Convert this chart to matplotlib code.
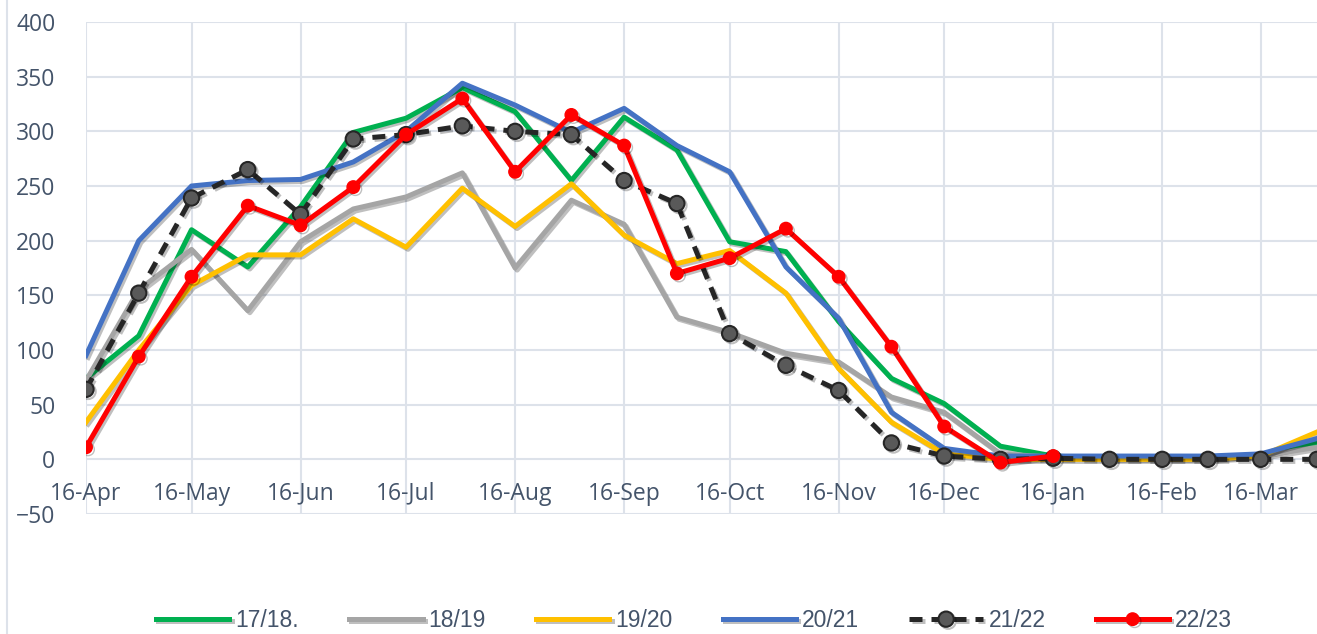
import matplotlib
matplotlib.use("Agg")
import matplotlib.pyplot as plt
import matplotlib.dates as mdates
import matplotlib.patheffects as pe
from matplotlib.lines import Line2D
from matplotlib import font_manager
import pandas as pd

# semi-monthly observation dates (season Apr -> Apr)
dates = pd.to_datetime([
    "2022-04-16", "2022-05-01", "2022-05-16", "2022-06-01", "2022-06-16", "2022-07-01",
    "2022-07-16", "2022-08-01", "2022-08-16", "2022-09-01", "2022-09-16", "2022-10-01",
    "2022-10-16", "2022-11-01", "2022-11-16", "2022-12-01", "2022-12-16", "2023-01-01",
    "2023-01-16", "2023-02-01", "2023-02-16", "2023-03-01", "2023-03-16", "2023-04-01",
])

s1718 = [74, 113, 210, 176, 231, 299, 312, 340, 318, 255, 313, 283,
         199, 190, 126, 74, 51, 12, 3, 1, 1, 1, 4, 15]
s1819 = [72, 155, 192, 136, 199, 229, 240, 262, 175, 237, 215, 130,
         116, 97, 89, 57, 43, 5, 2, 2, 2, 2, 3, 11]
s1920 = [34, 100, 159, 187, 187, 220, 194, 248, 213, 252, 205, 179,
         191, 152, 83, 34, 5, 0, 0, 0, 0, 0, 3, 25]
s2021 = [95, 200, 250, 255, 256, 272, 300, 344, 324, 299, 321, 287,
         263, 176, 129, 43, 10, 3, 3, 3, 3, 3, 5, 19]
s2122 = [64, 152, 239, 265, 224, 293, 297, 305, 300, 297, 255, 234,
         115, 86, 63, 15, 3, 0, 1, 0, 0, 0, 0, 0]
s2223 = [11, 94, 167, 232, 214, 249, 297, 330, 263, 315, 287, 170,
         184, 211, 167, 103, 30, -3, 3]

labels = ["17/18.", "18/19", "19/20", "20/21", "21/22", "22/23"]
text_col = "#44546A"
grid_col = "#DDE2EA"

names = {f.name for f in font_manager.fontManager.ttflist}
tick_font = "Open Sans" if "Open Sans" in names else "DejaVu Sans"
legend_font = "Liberation Sans Narrow" if "Liberation Sans Narrow" in names else "Liberation Sans"

fig = plt.figure(figsize=(13.17, 6.34), dpi=100)
ax = fig.add_axes([86 / 1317, 1 - 514 / 634, 1 - 86 / 1317, (514 - 22) / 634])

shadow = [pe.SimpleLineShadow(offset=(1.5, -1.5), alpha=0.25), pe.Normal()]

ax.plot(dates, s1718, color="#00B050", lw=3.6, label=labels[0], path_effects=shadow)
ax.plot(dates, s1819, color="#A5A5A5", lw=3.6, label=labels[1], path_effects=shadow)
ax.plot(dates, s1920, color="#FFC000", lw=3.6, label=labels[2], path_effects=shadow)
ax.plot(dates, s2021, color="#4472C4", lw=3.6, label=labels[3], path_effects=shadow)
ax.plot(dates, s2122, color="#262626", lw=3.6, ls=(0, (2.6, 1.8)), marker="o",
        markersize=11, markerfacecolor="#595959", markeredgecolor="#262626",
        markeredgewidth=1.5, label=labels[4], path_effects=shadow)
ax.plot(dates[:len(s2223)], s2223, color="#FF0000", lw=3.6, marker="o",
        markersize=9, markerfacecolor="#FF0000", markeredgecolor="#FF0000",
        label=labels[5], path_effects=shadow)

ax.set_ylim(-50, 400)
ax.set_yticks(range(-50, 401, 50))
ax.set_xlim(dates[0], dates[-1])
ax.xaxis.set_major_locator(mdates.MonthLocator(bymonthday=16))
ax.xaxis.set_major_formatter(mdates.DateFormatter("%d-%b"))

ax.grid(True, color=grid_col, lw=1.5)
ax.set_axisbelow(True)
for side in ["top", "right", "left"]:
    ax.spines[side].set_visible(False)
ax.spines["bottom"].set_position(("data", 0))
ax.spines["bottom"].set_visible(False)
ax.tick_params(axis="x", length=0, pad=16, labelsize=16.5, labelcolor=text_col)
ax.tick_params(axis="y", length=0, pad=22, labelsize=16.5, labelcolor=text_col)
for lab in ax.get_xticklabels() + ax.get_yticklabels():
    lab.set_fontfamily(tick_font)

# outer chart border on the left
fig.add_artist(Line2D([7 / 1317, 7 / 1317], [0, 1], color=grid_col, lw=1.5))

fig.legend(loc="center", bbox_to_anchor=(0.527, 0.021), ncol=6, frameon=False,
           prop={"family": legend_font, "size": 16.5}, labelcolor=text_col,
           handlelength=3.2, columnspacing=2.2, handletextpad=0.25)

fig.savefig("out.png", dpi=100)
